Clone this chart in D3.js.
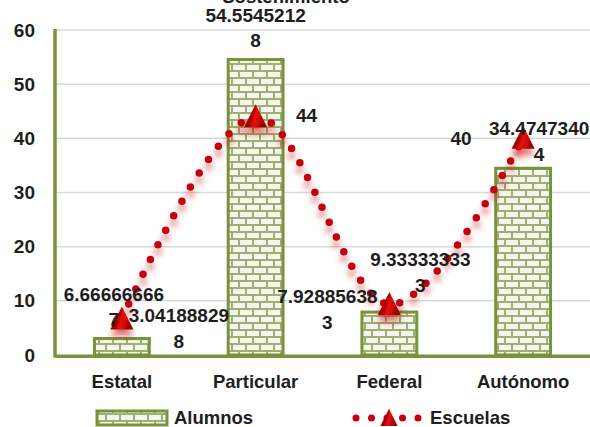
<!DOCTYPE html>
<html>
<head>
<meta charset="utf-8">
<script src="https://cdn.jsdelivr.net/npm/d3@7"></script>
<style>
  html, body { margin: 0; padding: 0; background: #fff; }
  svg { display: block; }
  text { font-family: "Liberation Sans", Arial, sans-serif; font-weight: bold; fill: #1e1e1e; }
</style>
</head>
<body>
<svg id="chart" width="590" height="427"></svg>
<script>
// ---- data ----
const categories = ["Estatal", "Particular", "Federal", "Autónomo"];
const alumnos = [3.041888298, 54.55452128, 7.928856383, 34.47473404];
const escuelas = [6.666666667, 44, 9.333333333, 40];
const yTicks = [0, 10, 20, 30, 40, 50, 60];
const seriesNames = ["Alumnos", "Escuelas"];
const title = "Sostenimiento";

// ---- layout (label offsets relative to each data point) ----
const alumnosLabelOffset = [[57, -16.5], [0, -37.5], [-62, -9], [16, -33]];
const escuelasLabelOffset = [[-8, -18], [51, 5], [31, -38], [-62, 7]];

const M = { left: 55, right: 590, top: 30, bottom: 355 };
const green = "#77933c";
const red = "#c8000a";

const svg = d3.select("#chart");
const defs = svg.append("defs");

// brick pattern
const pat = defs.append("pattern").attr("id", "brick")
  .attr("patternUnits", "userSpaceOnUse").attr("width", 14).attr("height", 14);
pat.append("rect").attr("width", 14).attr("height", 14).attr("fill", "#f4f6ee");
pat.append("rect").attr("x", 0).attr("y", 0).attr("width", 14).attr("height", 2).attr("fill", "#9fae72");
pat.append("rect").attr("x", 0).attr("y", 7).attr("width", 14).attr("height", 2).attr("fill", "#9fae72");
pat.append("rect").attr("x", 0).attr("y", 0).attr("width", 2).attr("height", 7).attr("fill", "#9fae72");
pat.append("rect").attr("x", 7).attr("y", 7).attr("width", 2).attr("height", 7).attr("fill", "#9fae72");

// shadow filter
const f = defs.append("filter").attr("id", "sh")
  .attr("x", "-50%").attr("y", "-50%").attr("width", "200%").attr("height", "200%");
f.append("feGaussianBlur").attr("in", "SourceGraphic").attr("stdDeviation", 3).attr("result", "b");
f.append("feOffset").attr("in", "b").attr("dy", 7).attr("result", "o");
const ct = f.append("feComponentTransfer").attr("in", "o").attr("result", "t");
ct.append("feFuncA").attr("type", "linear").attr("slope", 0.5);
const fm = f.append("feMerge");
fm.append("feMergeNode").attr("in", "t");
fm.append("feMergeNode").attr("in", "SourceGraphic");

// triangle gradient
const g1 = defs.append("linearGradient").attr("id", "tri")
  .attr("x1", "0").attr("y1", "0").attr("x2", "1").attr("y2", "0.3");
g1.append("stop").attr("offset", "0%").attr("stop-color", "#7a0000");
g1.append("stop").attr("offset", "45%").attr("stop-color", "#b00000");
g1.append("stop").attr("offset", "62%").attr("stop-color", "#e81010");
g1.append("stop").attr("offset", "100%").attr("stop-color", "#a00000");

// scales
const x = d3.scaleBand().domain(categories).range([M.left, M.right]).padding(0);
const y = d3.scaleLinear().domain([0, 60]).range([M.bottom, M.top]);
const cx = c => x(c) + x.bandwidth() / 2;

// title (clipped at top, as in the reference)
svg.append("text").attr("x", 286).attr("y", 3).attr("text-anchor", "middle")
  .style("font-size", "18.5px").text(title);

// gridlines
svg.append("g").selectAll("line").data(yTicks.filter(t => t > 0)).join("line")
  .attr("x1", M.left).attr("x2", M.right)
  .attr("y1", d => y(d)).attr("y2", d => y(d))
  .attr("stroke", "#d9d9d9").attr("stroke-width", 1.5);

// y axis tick labels
const yAxis = d3.axisLeft(y).tickValues(yTicks).tickSize(0).tickPadding(0).tickFormat(d3.format("d"));
const ya = svg.append("g").attr("transform", `translate(35,0)`).call(yAxis);
ya.select(".domain").remove();
ya.selectAll("text").style("font-size", "19px").attr("fill", "#1e1e1e")
  .style("font-family", '"Liberation Sans", Arial, sans-serif').style("font-weight", "bold");

// x axis labels
const xAxis = d3.axisBottom(x).tickSize(0).tickPadding(0);
const xa = svg.append("g").attr("transform", `translate(0,375)`).call(xAxis);
xa.select(".domain").remove();
xa.selectAll("text").style("font-size", "18.5px").attr("fill", "#1e1e1e").attr("dy", "0.71em")
  .style("font-family", '"Liberation Sans", Arial, sans-serif').style("font-weight", "bold");

// bars
const bw = x.bandwidth() * 0.41;
svg.append("g").selectAll("rect").data(categories).join("rect")
  .attr("x", (c) => cx(c) - bw / 2)
  .attr("y", (c, i) => y(alumnos[i]))
  .attr("width", bw)
  .attr("height", (c, i) => y(0) - y(alumnos[i]))
  .attr("fill", "url(#brick)")
  .attr("stroke", green).attr("stroke-width", 3);

// axis lines
svg.append("line").attr("x1", M.left).attr("x2", M.left).attr("y1", M.top - 1).attr("y2", M.bottom + 2.5)
  .attr("stroke", green).attr("stroke-width", 3.5);
svg.append("line").attr("x1", M.left).attr("x2", M.right).attr("y1", M.bottom + 1.2).attr("y2", M.bottom + 1.2)
  .attr("stroke", green).attr("stroke-width", 3.5);

// escuelas smooth dotted line
const line = d3.line().x((d, i) => cx(categories[i])).y(d => y(d)).curve(d3.curveCatmullRom.alpha(0));
svg.append("path").datum(escuelas).attr("d", line)
  .attr("fill", "none").attr("stroke", red).attr("stroke-width", 7.5)
  .attr("stroke-linecap", "round").attr("stroke-dasharray", "0 16.5")
  .attr("filter", "url(#sh)");

// triangles
const triPath = "M0,-12.5 L11.5,10.5 L-11.5,10.5 Z";
svg.append("g").selectAll("path").data(escuelas).join("path")
  .attr("d", triPath)
  .attr("transform", (d, i) => `translate(${cx(categories[i])},${y(d)})`)
  .attr("fill", "url(#tri)")
  .attr("filter", "url(#sh)");

// data labels
function splitLabel(v) {
  const s = String(v);
  return s.length > 10 ? [s.slice(0, 10), s.slice(10)] : [s];
}
function drawLabels(vals, offs) {
  vals.forEach((v, i) => {
    const lines = splitLabel(v);
    const t = svg.append("text")
      .attr("x", cx(categories[i]) + offs[i][0])
      .attr("y", y(v) + offs[i][1])
      .attr("text-anchor", "middle")
      .style("font-size", "19px");
    lines.forEach((ln, k) => {
      t.append("tspan").attr("x", cx(categories[i]) + offs[i][0])
        .attr("dy", k === 0 ? 0 : 25.5).text(ln);
    });
  });
}
drawLabels(alumnos, alumnosLabelOffset);
drawLabels(escuelas, escuelasLabelOffset);

// legend
const lg = svg.append("g");
lg.append("rect").attr("x", 97).attr("y", 411).attr("width", 70).attr("height", 14)
  .attr("fill", "url(#brick)").attr("stroke", green).attr("stroke-width", 3);
lg.append("text").attr("x", 174).attr("y", 424).style("font-size", "18.5px").text(seriesNames[0]);
lg.append("path").attr("d", "M356,418 L420,418")
  .attr("fill", "none").attr("stroke", red).attr("stroke-width", 7)
  .attr("stroke-linecap", "round").attr("stroke-dasharray", "0 15.5");
lg.append("path").attr("d", triPath)
  .attr("transform", "translate(389,418) scale(0.75)")
  .attr("fill", "url(#tri)");
lg.append("text").attr("x", 430).attr("y", 424).style("font-size", "18.5px").text(seriesNames[1]);
</script>
</body>
</html>
